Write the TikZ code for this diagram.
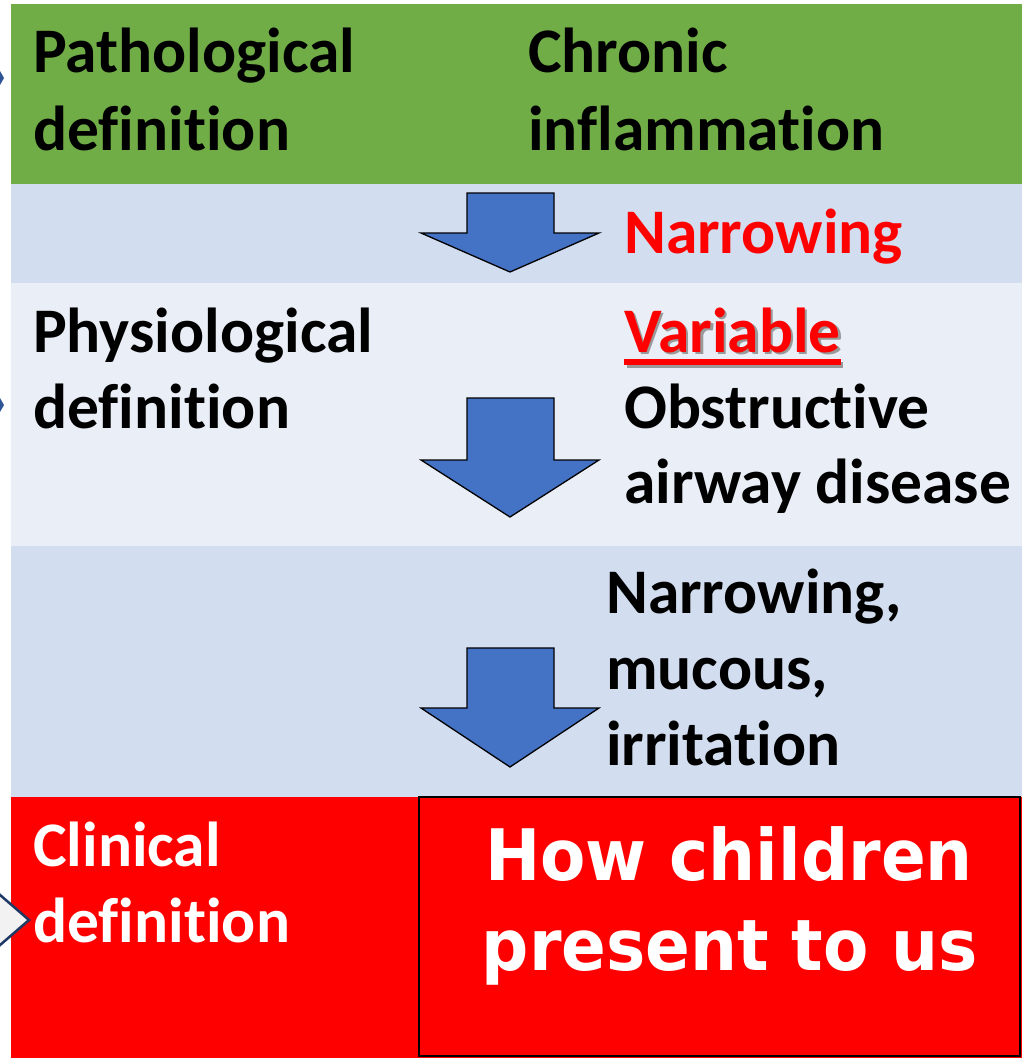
\documentclass[tikz,border=0pt]{standalone}
\usepackage{fontspec}
\usepackage{graphicx}
\setmainfont{Carlito}[Ligatures=NoCommon]
\newfontfamily\howfont{DejaVu Sans}
\definecolor{bandgreen}{HTML}{70AD47}
\definecolor{banddark}{HTML}{D2DEEF}
\definecolor{bandlight}{HTML}{EAEFF7}
\definecolor{bandred}{HTML}{FF0000}
\definecolor{arrowblue}{HTML}{4472C4}
\definecolor{tipblue}{HTML}{2F5597}
\definecolor{navy}{HTML}{1F3864}
\definecolor{chevgray}{HTML}{F2F2F2}
\begin{document}
\begin{tikzpicture}[x=1pt,y=-1pt,
  txt/.style={anchor=base west, inner sep=0pt, font=\bfseries\fontsize{63.5}{76}\selectfont},
  bigtxt/.style={anchor=base, inner sep=0pt, text=white, font=\howfont\bfseries\fontsize{71}{85}\selectfont},
  downarrow/.style={fill=arrowblue, draw=black, line width=1.3pt, line join=miter}]
\useasboundingbox (0,0) rectangle (1022,1058);
\fill[white] (0,0) rectangle (1022,1058);
% bands
\fill[bandgreen] (11,4) rectangle (1022,184);
\fill[banddark] (11,184) rectangle (1022,283);
\fill[bandlight] (11,283) rectangle (1022,546);
\fill[banddark] (11,546) rectangle (1022,797);
\fill[bandred] (11,797) rectangle (1022,1058);
\draw[black, line width=2pt] (419,797) rectangle (1020,1056);
% left markers
\fill[tipblue] (0,71) -- (4,78) -- (0,85) -- cycle;
\fill[tipblue] (0,398) -- (4,405) -- (0,412) -- cycle;
\filldraw[fill=chevgray, draw=navy, line width=2.5pt, line join=miter] (-8,888) -- (29,920) -- (-8,952);
% arrows
\draw[downarrow] (467,193) -- (554,193) -- (554,233) -- (599,233) -- (510,272) -- (421,233) -- (467,233) -- cycle;
\draw[downarrow] (467,398) -- (554,398) -- (554,460) -- (599,460) -- (510,517) -- (421,460) -- (467,460) -- cycle;
\draw[downarrow] (467,648) -- (554,648) -- (554,708) -- (599,708) -- (510,767) -- (421,708) -- (467,708) -- cycle;
% row 1
\node[txt] (path1) at (33,72) {Pathological};
\node[txt] (path2) at (33,150) {definition};
\node[txt] (chron1) at (528,72) {Chronic};
\node[txt] (chron2) at (528,150) {inflammation};
% row 2
\node[txt, text=bandred] (narrow1) at (624,253) {Narrowing};
% row 3
\node[txt] (phys1) at (33,352) {Physiological};
\node[txt] (phys2) at (33,428) {definition};
\node[txt, text=bandred] (variable) at (624,352)
  {\rlap{\kern2.5pt\raisebox{-2.5pt}{\color{black!40}Variable}}Variable};
\fill[black!40] (626.5,361.5) rectangle ([xshift=2.5pt]variable.south east |- 0,367.5);
\fill[bandred] (624,359) rectangle (variable.south east |- 0,365);
\node[txt] (obst1) at (624,428) {Obstructive};
\node[txt] (obst2) at (624,503) {airway disease};
% row 4
\node[txt] (irr1) at (606,613) {Narrowing,};
\node[txt] (irr2) at (606,689) {mucous,};
\node[txt] (irr3) at (606,765) {irritation};
% row 5
\node[txt, text=white] (clin1) at (33,866) {Clinical};
\node[txt, text=white] (clin2) at (33,942) {definition};
\node[bigtxt] (how1) at (729,880) {\scalebox{0.93}[1]{How children}};
\node[bigtxt] (how2) at (730,970) {\scalebox{0.93}[1]{present to us}};
\end{tikzpicture}
\end{document}
